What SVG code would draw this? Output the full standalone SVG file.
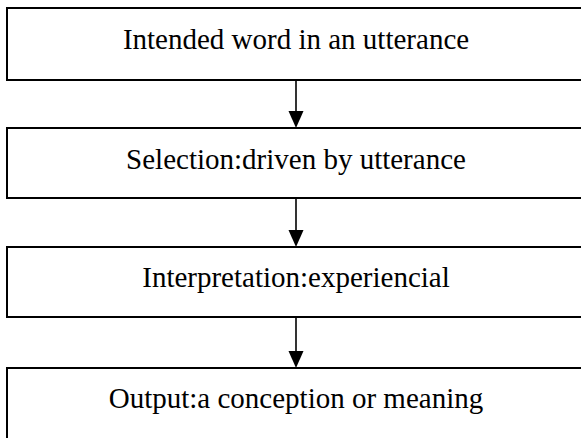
<svg xmlns="http://www.w3.org/2000/svg" width="581" height="438" viewBox="0 0 581 438">
<style>
.box{fill:#fff;stroke:#000;stroke-width:2}
.lbl{font-family:"Liberation Serif","Times New Roman",serif;font-size:29px;fill:#000;text-anchor:middle}
.conn{stroke:#000;stroke-width:1.6;fill:none}
.head{fill:#000}
</style>
<rect width="581" height="438" fill="#fff"/>
<g id="n1"><rect class="box" x="7" y="8" width="590" height="72"/><text class="lbl" x="296" y="49">Intended word in an utterance</text></g>
<g id="n2"><rect class="box" x="7" y="128" width="590" height="70"/><text class="lbl" x="296" y="169">Selection:driven by utterance</text></g>
<g id="n3"><rect class="box" x="7" y="247" width="590" height="70"/><text class="lbl" x="296" y="287">Interpretation:experiencial</text></g>
<g id="n4"><rect class="box" x="7" y="368" width="590" height="90"/><text class="lbl" x="296" y="408">Output:a conception or meaning</text></g>
<g id="connectors">
<line class="conn" x1="296" y1="80" x2="296" y2="112"/><polygon class="head" points="288.5,111 303.5,111 296,128"/>
<line class="conn" x1="296" y1="198" x2="296" y2="231"/><polygon class="head" points="288.5,230 303.5,230 296,247"/>
<line class="conn" x1="296" y1="317" x2="296" y2="352"/><polygon class="head" points="288.5,351 303.5,351 296,368"/>
</g>
</svg>
